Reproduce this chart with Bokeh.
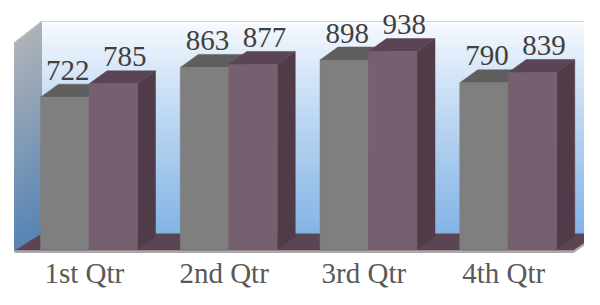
import numpy as np
from bokeh.plotting import figure
from bokeh.models import Range1d
from bokeh.core.properties import value
from bokeh.embed import file_html
from bokeh.resources import INLINE

# ---------------- data ----------------
categories = ["1st Qtr", "2nd Qtr", "3rd Qtr", "4th Qtr"]
series_a = [722, 863, 898, 790]   # grey bars
series_b = [785, 877, 938, 839]   # purple bars

# ---------------- layout (pixel geometry of the reference) ----------------
W, H = 584, 289
OFF = 0
CAT_PX = 139.75         # px per category along the front edge
VAL_PX = 0.211          # px per value unit
X0, Y0 = 14.0, 249.0    # px of category 0 start / value 0
FONT = value("Liberation Serif, Times New Roman, serif")

def ux(px):
    return (px - X0) / CAT_PX

def vy(py):
    return (Y0 - py) / VAL_PX

def du(dpx):
    return dpx / CAT_PX

def dv(dpx):
    return dpx / VAL_PX

p = figure(width=W, height=H, output_backend="svg", toolbar_location=None,
           x_range=Range1d(ux(OFF), ux(OFF + W)),
           y_range=Range1d(vy(OFF + H), vy(OFF)),
           x_axis_location=None, y_axis_location=None, min_border=0)
p.grid.visible = False
p.outline_line_color = None
p.background_fill_color = "white"
p.border_fill_color = "white"

def lerp(c1, c2, t):
    return "#%02x%02x%02x" % tuple(int(round(a + (b - a) * t)) for a, b in zip(c1, c2))

# ---- back wall (vertical gradient) ----
N = 60
bw_l, bw_r, bw_t, bw_b = 41, 598, 21, 233
tops, bots, cols = [], [], []
for k in range(N):
    t0 = k / N
    t1 = (k + 1) / N
    tops.append(vy(bw_t + (bw_b - bw_t) * t0))
    bots.append(vy(bw_t + (bw_b - bw_t) * t1))
    cols.append(lerp((250, 252, 255), (132, 180, 230), ((t0 + t1) / 2) ** 0.85))
p.quad(left=ux(bw_l), right=ux(bw_r), top=tops, bottom=bots,
       fill_color=cols, line_color=cols, line_width=1)
p.line(x=[ux(bw_l), ux(bw_r)], y=[vy(bw_t), vy(bw_t)], line_color="#d0d4d8", line_width=1)

# ---- left side wall (gradient strips) ----
xs, ys, cols = [], [], []
for k in range(N):
    t0 = k / N
    t1 = (k + 1) / N
    xs.append([ux(14), ux(41), ux(41), ux(14)])
    ys.append([vy(42 + 208 * t0), vy(21 + 212 * t0), vy(21 + 212 * t1), vy(42 + 208 * t1)])
    cols.append(lerp((175, 178, 184), (86, 132, 180), (t0 + t1) / 2))
p.patches(xs=xs, ys=ys, fill_color=cols, line_color=cols, line_width=1)
p.line(x=[ux(14), ux(41)], y=[vy(42), vy(21)], line_color="#c8cacc", line_width=1)

# ---- floor ----
p.patch(x=[ux(14), ux(573), ux(598), ux(598), ux(573), ux(14)],
        y=[vy(250), vy(250), vy(233), vy(235.5), vy(252.5), vy(252.5)],
        fill_color="#a9a9ab", line_color=None)
p.patch(x=[ux(14), ux(573), ux(598), ux(41)],
        y=[vy(250), vy(250), vy(233), vy(233)],
        fill_color="#5b4453", line_color=None)

# ---- bars ----
BAR_START = du(40 - X0)
BAR_W = du(48.5)
DX = du(18)
DY = dv(13)

def draw_bars(lefts, vals, front, top, side):
    rights = [l + BAR_W for l in lefts]
    p.patches(xs=[[r, r + DX, r + DX, r] for r in rights],
              ys=[[0, DY, v + DY, v] for v in vals],
              fill_color=side, line_color=side, line_width=0.5)
    p.patches(xs=[[l, r, r + DX, l + DX] for l, r in zip(lefts, rights)],
              ys=[[v, v, v + DY, v + DY] for v in vals],
              fill_color=top, line_color=top, line_width=0.5)
    p.quad(left=lefts, right=rights, bottom=0, top=vals,
           fill_color=front, line_color=front, line_width=0.5)

for i in range(len(categories)):
    la = i + BAR_START
    lb = la + BAR_W
    draw_bars([la], [series_a[i]], "#7f7f7f", "#5e5e5e", "#4e4e4e")
    draw_bars([lb], [series_b[i]], "#75606f", "#5b4455", "#503b49")

# ---- value labels ----
LABEL_SHIFT = (du(3), du(11.5))
lab_x, lab_y, lab_t = [], [], []
for i in range(len(categories)):
    la = i + BAR_START
    for j, v in enumerate((series_a[i], series_b[i])):
        lab_x.append(la + BAR_W * j + BAR_W / 2 + LABEL_SHIFT[j])
        lab_y.append(v + dv(27))
        lab_t.append(str(v))
p.text(x=lab_x, y=lab_y, text=lab_t, text_font=FONT,
       text_font_size="29px", text_align="center", text_baseline="alphabetic",
       text_color="#404040")

# ---- category labels ----
p.text(x=[i + 0.5 for i in range(len(categories))], y=[vy(272)] * len(categories),
       text=categories, text_font=FONT, text_font_size="29px",
       text_align="center", text_baseline="alphabetic", text_color="#595959")

open("out.html", "w").write(file_html(p, INLINE))
